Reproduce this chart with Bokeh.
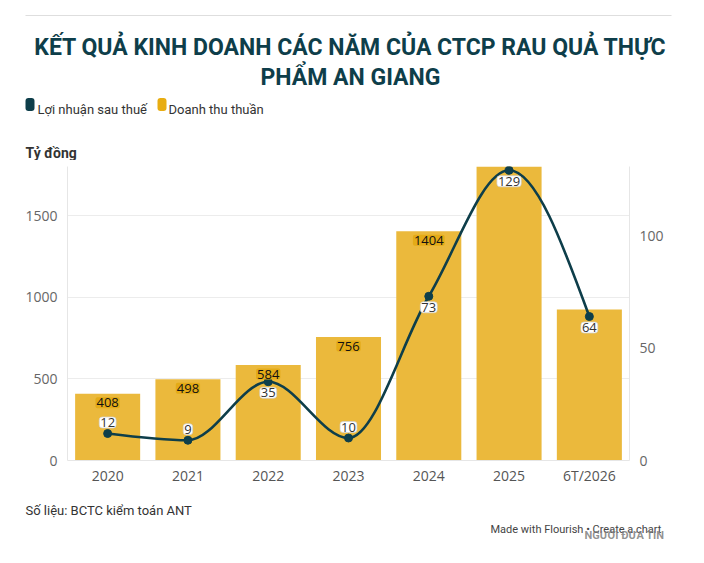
from bokeh.plotting import figure
from bokeh.layouts import column
from bokeh.models import Range1d, LinearAxis, FixedTicker, Label, ColumnDataSource
from bokeh.embed import file_html
from bokeh.resources import INLINE

# ---------------- data ----------------
years = ["2020", "2021", "2022", "2023", "2024", "2025", "6T/2026"]
revenue = [408, 498, 584, 756, 1404, 1800, 925]       # Doanh thu thuần (tỷ đồng)
profit = [12, 9, 35, 10, 73, 129, 64]                 # Lợi nhuận sau thuế (tỷ đồng)
revenue_labelled = [True, True, True, True, True, False, False]
left_ticks = [0, 500, 1000, 1500]
right_ticks = [0, 50, 100]
left_max = 1800
right_max = 130.7

title_lines = ["KẾT QUẢ KINH DOANH CÁC NĂM CỦA CTCP RAU QUẢ THỰC", "PHẨM AN GIANG"]
legend_names = ["Lợi nhuận sau thuế", "Doanh thu thuần"]
unit_label = "Tỷ đồng"
source_note = "Số liệu: BCTC kiểm toán ANT"
credit = "Made with Flourish • Create a chart"
watermark = "NGƯỜI ĐƯA TIN"

# ---------------- styles ----------------
DARK = "#0e3e4a"
GOLD = "#ebb93c"
GOLD_SWATCH = "#e8ad12"
GOLD_LABEL = "#e4ab17"
profit_label_side = [1, 1, -1, 1, -1, -1, -1]

W = 688
HEAD_H = 160          # page y 0..160
MAIN_TOP, MAIN_BOT = 160, 496
FOOT_BOT = 550
FL, FR, FT, FB = 67, 629, 166, 460   # plot frame in page pixels


def pixel_fig(y0, y1):
    f = figure(width=W, height=y1 - y0, x_range=Range1d(0, W), y_range=Range1d(y1, y0),
               output_backend="svg", toolbar_location=None,
               x_axis_location=None, y_axis_location=None, min_border=0,
               frame_align=False)
    f.grid.grid_line_color = None
    f.outline_line_color = None
    f.background_fill_color = "white"
    f.border_fill_color = "white"
    return f


# ---------------- header ----------------
head = pixel_fig(0, HEAD_H)
head.segment(x0=[25], y0=[15], x1=[671], y1=[15], line_color="#dedede", line_width=1.2)
for k, line in enumerate(title_lines):
    head.add_layout(Label(x=350, y=47 + 30 * k, text=line, text_align="center",
                          text_baseline="alphabetic", text_font="Roboto",
                          text_font_style="bold", text_font_size="23px", text_color=DARK))
legend_sw = [(25, 34), (157, 166)]
legend_tx = [37, 168]
legend_cols = [DARK, GOLD_SWATCH]
head.quad(left=[a for a, b in legend_sw], right=[b for a, b in legend_sw],
          top=[97.5] * 2, bottom=[110.5] * 2, fill_color=legend_cols, line_color=None,
          border_radius=3)
for tx, name in zip(legend_tx, legend_names):
    head.add_layout(Label(x=tx, y=109, text=name, text_align="left",
                          text_baseline="alphabetic", text_font="Roboto",
                          text_font_size="13px", text_color="#333333"))
head.add_layout(Label(x=25, y=152, text=unit_label, text_align="left",
                      text_baseline="alphabetic", text_font="Roboto", text_font_style="bold",
                      text_font_size="14px", text_color="#333333"))

# ---------------- main chart ----------------
p = figure(x_range=years, y_range=Range1d(0, left_max), width=W, height=MAIN_BOT - MAIN_TOP,
           output_backend="svg", toolbar_location=None,
           min_border_left=FL, min_border_right=W - FR,
           min_border_top=FT - MAIN_TOP, min_border_bottom=MAIN_BOT - FB,
           frame_align=False)
p.outline_line_color = None
p.background_fill_color = "white"
p.border_fill_color = "white"
p.extra_y_ranges = {"profit": Range1d(0, right_max)}

p.yaxis[0].ticker = FixedTicker(ticks=left_ticks)
p.add_layout(LinearAxis(y_range_name="profit", ticker=FixedTicker(ticks=right_ticks)), "right")
for ax in p.axis:
    ax.axis_line_color = "#e6e6e6"
    ax.major_tick_line_color = None
    ax.minor_tick_line_color = None
    ax.major_tick_out = 0
    ax.major_tick_in = 0
    ax.minor_tick_out = 0
    ax.major_label_text_color = "#666666"
    ax.major_label_text_font = "Open Sans"
    ax.major_label_text_font_size = "14px"
    ax.major_label_standoff = 10
p.xaxis.major_label_standoff = 5
p.xaxis.major_label_text_color = "#555555"
p.xgrid.grid_line_color = None
p.ygrid.grid_line_color = "#ececec"

p.vbar(x=years, top=revenue, width=0.81, fill_color=GOLD, line_color=None)

# smooth line: monotone-x cubic through the data points
xs = [i + 0.5 for i in range(len(years))]
n = len(xs)


def sign(v):
    return -1 if v < 0 else 1


t = [0.0] * n
for i in range(1, n - 1):
    h0 = xs[i] - xs[i - 1]
    h1 = xs[i + 1] - xs[i]
    s0 = (profit[i] - profit[i - 1]) / h0
    s1 = (profit[i + 1] - profit[i]) / h1
    pp = (s0 * h1 + s1 * h0) / (h0 + h1)
    t[i] = (sign(s0) + sign(s1)) * min(abs(s0), abs(s1), 0.5 * abs(pp))
t[0] = (3 * (profit[1] - profit[0]) / (xs[1] - xs[0]) - t[1]) / 2
t[-1] = (3 * (profit[-1] - profit[-2]) / (xs[-1] - xs[-2]) - t[-2]) / 2

seg = dict(x0=[], y0=[], x1=[], y1=[], cx0=[], cy0=[], cx1=[], cy1=[])
for i in range(n - 1):
    dx = (xs[i + 1] - xs[i]) / 3
    seg["x0"].append(xs[i]); seg["y0"].append(profit[i])
    seg["x1"].append(xs[i + 1]); seg["y1"].append(profit[i + 1])
    seg["cx0"].append(xs[i] + dx); seg["cy0"].append(profit[i] + dx * t[i])
    seg["cx1"].append(xs[i + 1] - dx); seg["cy1"].append(profit[i + 1] - dx * t[i + 1])
p.bezier(x0="x0", y0="y0", x1="x1", y1="y1", cx0="cx0", cy0="cy0", cx1="cx1", cy1="cy1",
         source=ColumnDataSource(seg), line_color=DARK, line_width=2.6, y_range_name="profit")
p.scatter(x=years, y=profit, size=8, fill_color=DARK, line_color=DARK, y_range_name="profit")

for i, v in enumerate(revenue):
    if revenue_labelled[i]:
        p.add_layout(Label(x=xs[i], y=v, y_offset=-9, text=str(v), text_align="center",
                           text_baseline="middle", text_font="Open Sans", text_font_size="13px",
                           text_color="#111111", background_fill_color=GOLD_LABEL,
                           padding=1, border_radius=2))
for i, v in enumerate(profit):
    p.add_layout(Label(x=xs[i], y=v, y_range_name="profit", y_offset=11 * profit_label_side[i],
                       text=str(v), text_align="center", text_baseline="middle",
                       text_font="Open Sans", text_font_size="13px", text_color="#333333",
                       background_fill_color="white", border_line_color="#d0d0d0",
                       border_line_alpha=0.7, padding=1, border_radius=3))

# ---------------- footer ----------------
foot = pixel_fig(MAIN_BOT, FOOT_BOT)
foot.add_layout(Label(x=25, y=510, text=source_note, text_align="left",
                      text_baseline="alphabetic", text_font="Roboto", text_font_size="13px",
                      text_color="#333333"))
foot.add_layout(Label(x=490, y=529, text=credit, text_align="left",
                      text_baseline="alphabetic", text_font="Roboto", text_font_size="11px",
                      text_color="#444444"))
foot.add_layout(Label(x=584, y=535, text=watermark, text_align="left",
                      text_baseline="alphabetic", text_font="Roboto", text_font_style="bold",
                      text_font_size="11px", text_color="#7f7f7f", text_alpha=0.85))

layout = column(head, p, foot, spacing=0)
open("out.html", "w").write(file_html(layout, INLINE))
